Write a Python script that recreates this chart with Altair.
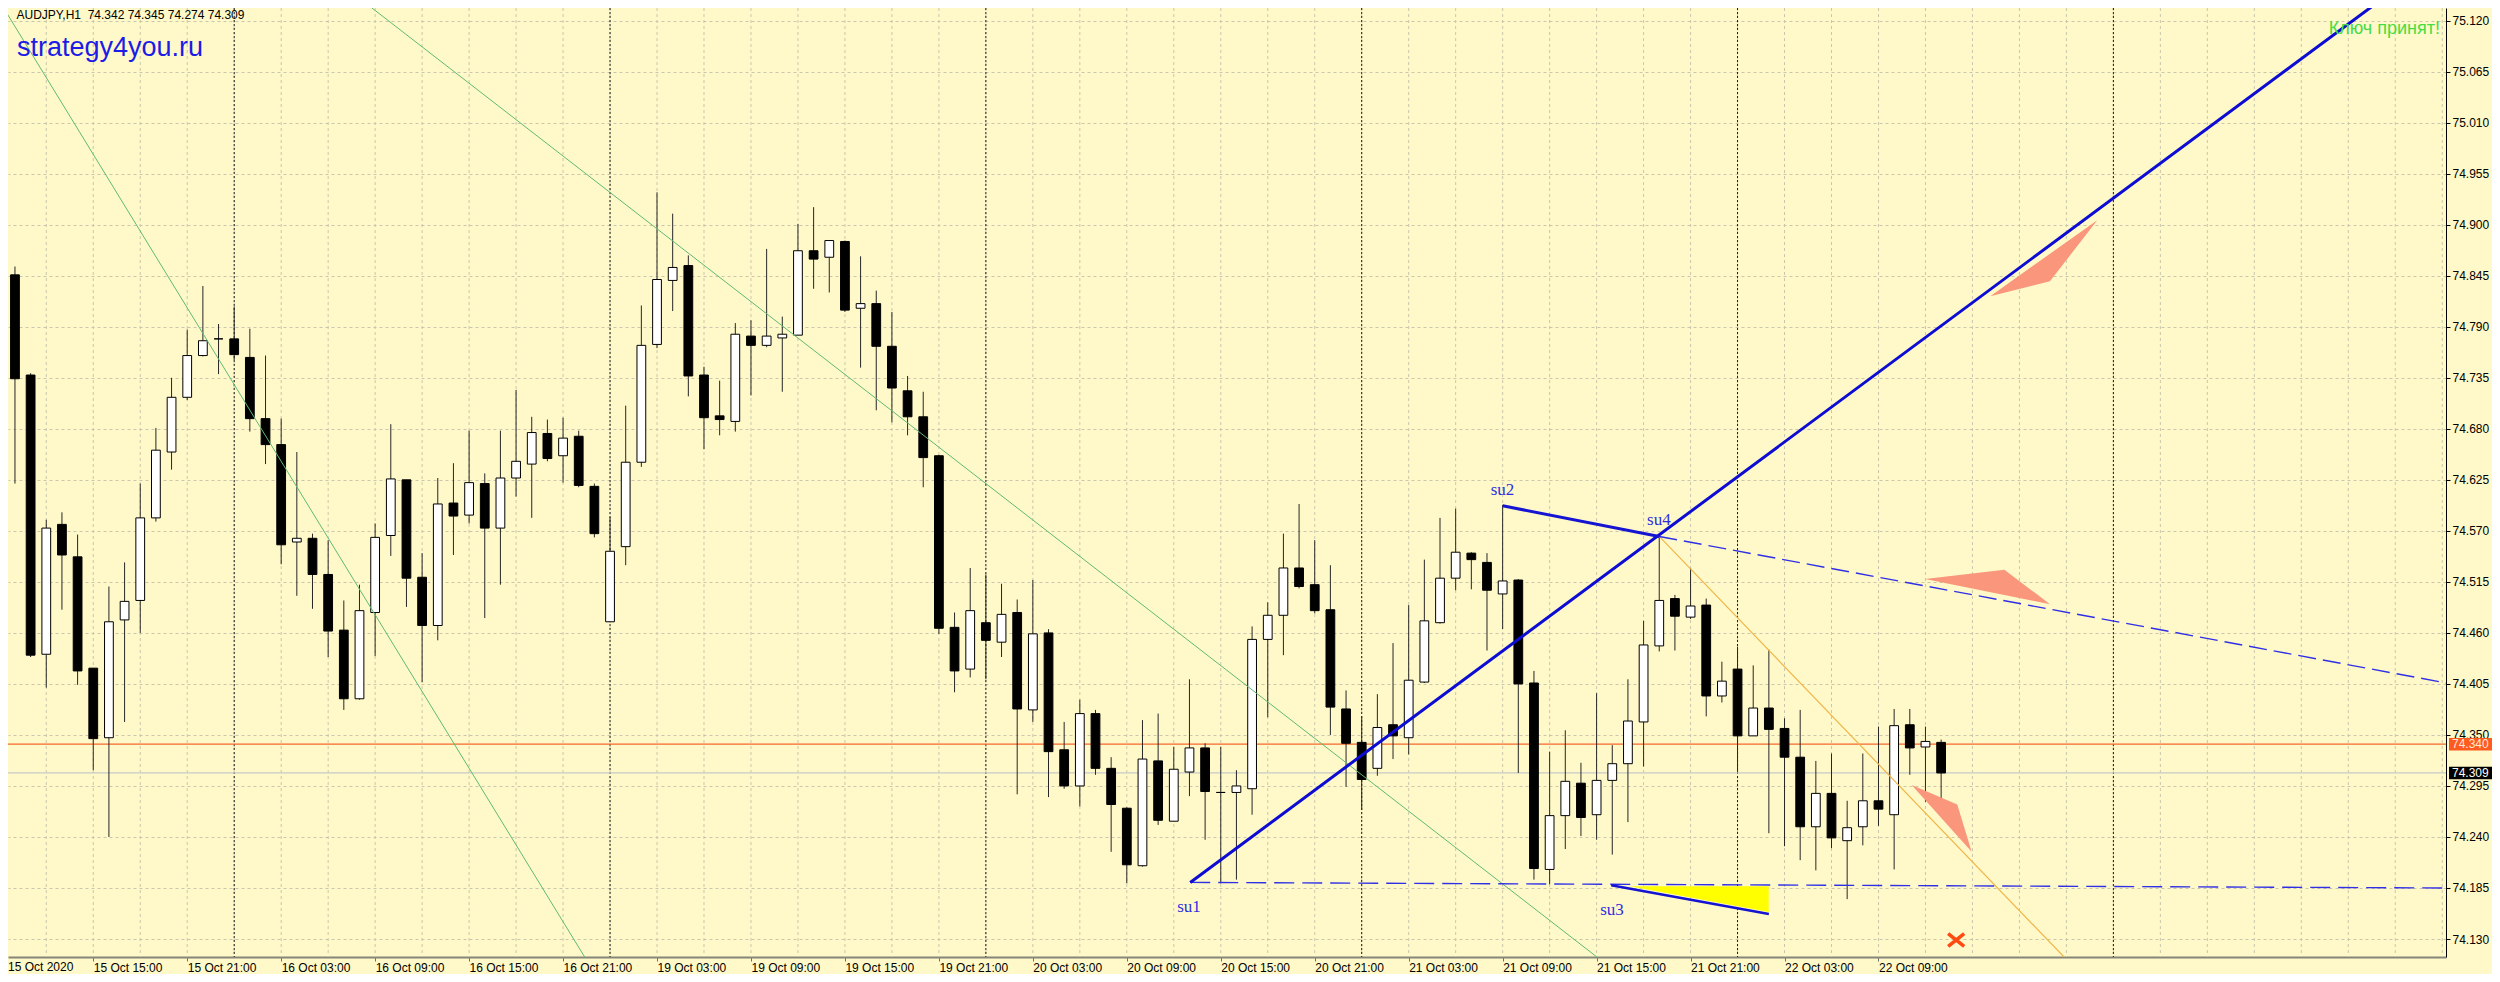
import json
import numpy as np
import pandas as pd
import altair as alt

# ---------------- data ----------------
bar_index = list(range(125))   # hourly bars, 15 Oct 09:00 .. 22 Oct 13:00 (weekend skipped)

opens = [74.997, 74.846, 74.738, 74.437, 74.577, 74.542, 74.422, 74.347, 74.474, 74.495,
         74.584, 74.655, 74.714, 74.759, 74.777, 74.777, 74.757, 74.691, 74.663, 74.558,
         74.562, 74.523, 74.463, 74.389, 74.482, 74.565, 74.625, 74.520, 74.468, 74.600,
         74.587, 74.621, 74.573, 74.627, 74.642, 74.675, 74.651, 74.672, 74.618, 74.472,
         74.553, 74.644, 74.771, 74.840, 74.856, 74.738, 74.694, 74.688, 74.780, 74.770,
         74.778, 74.781, 74.872, 74.865, 74.882, 74.810, 74.815, 74.769, 74.721, 74.693,
         74.651, 74.466, 74.421, 74.471, 74.450, 74.482, 74.377, 74.460, 74.334, 74.295,
         74.373, 74.314, 74.271, 74.209, 74.322, 74.257, 74.310, 74.336, 74.288, 74.288,
         74.292, 74.453, 74.479, 74.530, 74.512, 74.485, 74.378, 74.342, 74.314, 74.361,
         74.347, 74.407, 74.471, 74.519, 74.546, 74.536, 74.502, 74.517, 74.406, 74.205,
         74.263, 74.298, 74.264, 74.301, 74.319, 74.364, 74.446, 74.497, 74.477, 74.490,
         74.392, 74.421, 74.349, 74.379, 74.357, 74.326, 74.251, 74.287, 74.236, 74.251,
         74.279, 74.264, 74.361, 74.337, 74.342]
highs = [74.997, 74.855, 74.740, 74.582, 74.590, 74.566, 74.422, 74.510, 74.536, 74.621,
         74.681, 74.735, 74.787, 74.834, 74.793, 74.812, 74.788, 74.759, 74.691, 74.655,
         74.567, 74.560, 74.495, 74.512, 74.578, 74.685, 74.625, 74.546, 74.627, 74.643,
         74.678, 74.632, 74.678, 74.722, 74.693, 74.690, 74.692, 74.678, 74.621, 74.585,
         74.705, 74.813, 74.935, 74.912, 74.867, 74.747, 74.732, 74.794, 74.797, 74.874,
         74.801, 74.901, 74.919, 74.883, 74.883, 74.866, 74.829, 74.806, 74.737, 74.720,
         74.652, 74.482, 74.530, 74.523, 74.513, 74.496, 74.517, 74.464, 74.364, 74.388,
         74.377, 74.326, 74.272, 74.366, 74.373, 74.337, 74.410, 74.341, 74.337, 74.312,
         74.467, 74.493, 74.567, 74.599, 74.560, 74.533, 74.398, 74.370, 74.394, 74.449,
         74.490, 74.539, 74.584, 74.594, 74.547, 74.546, 74.598, 74.518, 74.419, 74.332,
         74.355, 74.320, 74.395, 74.339, 74.410, 74.473, 74.564, 74.501, 74.530, 74.497,
         74.429, 74.445, 74.425, 74.442, 74.368, 74.377, 74.322, 74.330, 74.279, 74.330,
         74.359, 74.378, 74.378, 74.359, 74.345]
lows = [74.847, 74.621, 74.434, 74.401, 74.485, 74.404, 74.312, 74.240, 74.364, 74.460,
        74.580, 74.636, 74.711, 74.758, 74.739, 74.754, 74.677, 74.642, 74.534, 74.500,
        74.486, 74.434, 74.377, 74.388, 74.435, 74.543, 74.488, 74.407, 74.452, 74.544,
        74.578, 74.476, 74.512, 74.607, 74.584, 74.645, 74.622, 74.617, 74.563, 74.472,
        74.533, 74.639, 74.767, 74.807, 74.715, 74.658, 74.673, 74.677, 74.716, 74.768,
        74.720, 74.781, 74.831, 74.827, 74.806, 74.746, 74.700, 74.687, 74.673, 74.617,
        74.459, 74.396, 74.412, 74.410, 74.434, 74.286, 74.364, 74.283, 74.292, 74.273,
        74.307, 74.224, 74.190, 74.208, 74.253, 74.257, 74.284, 74.237, 74.190, 74.194,
        74.264, 74.369, 74.436, 74.508, 74.481, 74.350, 74.294, 74.269, 74.306, 74.324,
        74.329, 74.406, 74.470, 74.506, 74.507, 74.441, 74.464, 74.309, 74.194, 74.189,
        74.227, 74.241, 74.237, 74.221, 74.256, 74.316, 74.440, 74.441, 74.475, 74.370,
        74.385, 74.310, 74.349, 74.244, 74.230, 74.215, 74.204, 74.228, 74.173, 74.231,
        74.252, 74.205, 74.307, 74.278, 74.274]
closes = [74.849, 74.734, 74.436, 74.573, 74.544, 74.419, 74.346, 74.472, 74.494, 74.584,
          74.657, 74.714, 74.759, 74.775, 74.777, 74.760, 74.691, 74.663, 74.555, 74.562,
          74.523, 74.462, 74.389, 74.484, 74.563, 74.626, 74.519, 74.468, 74.599, 74.586,
          74.622, 74.573, 74.627, 74.645, 74.676, 74.648, 74.670, 74.619, 74.567, 74.548,
          74.644, 74.770, 74.841, 74.854, 74.737, 74.692, 74.690, 74.782, 74.770, 74.780,
          74.782, 74.872, 74.863, 74.883, 74.808, 74.815, 74.769, 74.724, 74.693, 74.649,
          74.465, 74.419, 74.484, 74.452, 74.480, 74.378, 74.459, 74.332, 74.295, 74.373,
          74.314, 74.275, 74.210, 74.324, 74.258, 74.313, 74.336, 74.289, 74.288, 74.295,
          74.453, 74.479, 74.530, 74.510, 74.484, 74.380, 74.341, 74.302, 74.358, 74.349,
          74.409, 74.473, 74.519, 74.547, 74.539, 74.506, 74.516, 74.405, 74.206, 74.263,
          74.300, 74.261, 74.301, 74.319, 74.365, 74.447, 74.495, 74.478, 74.489, 74.392,
          74.408, 74.349, 74.379, 74.356, 74.326, 74.251, 74.287, 74.239, 74.250, 74.279,
          74.270, 74.360, 74.336, 74.343, 74.309]

y_ticks = [75.120, 75.065, 75.010, 74.955, 74.900, 74.845, 74.790, 74.735, 74.680, 74.625,
           74.570, 74.515, 74.460, 74.405, 74.350, 74.295, 74.240, 74.185, 74.130]
x_tick_idx = [6, 12, 18, 24, 30, 36, 42, 48, 54, 60, 66, 72, 78, 84, 90, 96, 102, 108, 114, 120]
x_tick_labels = ["15 Oct 15:00", "15 Oct 21:00", "16 Oct 03:00", "16 Oct 09:00", "16 Oct 15:00",
                 "16 Oct 21:00", "19 Oct 03:00", "19 Oct 09:00", "19 Oct 15:00", "19 Oct 21:00",
                 "20 Oct 03:00", "20 Oct 09:00", "20 Oct 15:00", "20 Oct 21:00", "21 Oct 03:00",
                 "21 Oct 09:00", "21 Oct 15:00", "21 Oct 21:00", "22 Oct 03:00", "22 Oct 09:00"]
first_label = "15 Oct 2020"
grid_idx = list(range(3, 157, 3))
day_sep_idx = [15, 39, 63, 87, 111, 135]

ask_level = 74.340
bid_level = 74.309

# trend lines (bar index, price) end points
green1_i, green1_p = [-0.034, 37.39], [75.1423, 74.1103]
green2_i, green2_p = [23.14, 102.02], [75.1423, 74.1106]
blue_up_i, blue_up_p = [76.05, 152.07], [74.191, 75.1423]
su24_i, su24_p = [96.0, 106.0], [74.597, 74.564]
su4ext_i, su4ext_p = [106.0, 156.26], [74.564, 74.406]
su1ext_i, su1ext_p = [76.05, 156.26], [74.191, 74.185]
su3_i, su3_p = [102.93, 113.0], [74.188, 74.157]
tan_i, tan_p = [106.0, 131.85], [74.564, 74.1106]

# filled shapes: upper chain / lower chain of (bar index, price)
arrow1_top = [(127.14, 74.823), (133.97, 74.905)]
arrow1_bot = [(127.14, 74.823), (130.95, 74.839), (133.97, 74.905)]
arrow2_top = [(122.97, 74.518), (128.04, 74.528), (130.95, 74.491)]
arrow2_bot = [(122.97, 74.518), (130.95, 74.491)]
arrow3_top = [(122.12, 74.296), (125.03, 74.275), (125.95, 74.224)]
arrow3_bot = [(122.12, 74.296), (125.95, 74.224)]
yellow_top = [(104.13, 74.187), (112.99, 74.187)]
yellow_bot = [(104.13, 74.187), (112.99, 74.159)]

su_labels = ["su1", "su2", "su4", "su3"]
su_i = [75.97, 95.99, 105.98, 102.98]
su_p = [74.1593, 74.6087, 74.5764, 74.1561]

cross_i, cross_p = [124.96], [74.129]

header = "AUDJPY,H1\u00a0\u00a074.342 74.345 74.274 74.309"
site = "strategy4you.ru"
key_msg = "Ключ принят!"

# ---------------- chart ----------------
BG = "#fff9c9"
W, H = 2438, 949
xs = alt.Scale(domain=[0.5556, 156.24], nice=False, zero=False)
ys = alt.Scale(domain=[74.1106, 75.1337], nice=False, zero=False)

label_expr = f"{json.dumps(x_tick_labels)}[indexof({json.dumps(x_tick_idx)}, datum.value)]"
xaxis = alt.Axis(values=x_tick_idx, labelExpr=label_expr, title=None, grid=False,
                 labelAlign="left", labelBaseline="top", labelFont="Liberation Sans",
                 labelFontSize=12, labelColor="#000000", labelPadding=1, labelOverlap=False,
                 labelFlush=False, tickSize=4, tickColor="#707070", domainColor="#85857a",
                 domainWidth=2)
yaxis = alt.Axis(orient="right", values=y_ticks, format=".3f", title=None, grid=True,
                 gridColor="#c9c6ad", gridDash=[3, 3], gridWidth=1,
                 labelFont="Liberation Sans", labelFontSize=12, labelColor="#000000",
                 labelPadding=2, labelOverlap=False, labelFlush=False, tickSize=4,
                 tickColor="#000000", domainColor="#000000", domainWidth=1)


def X(f):
    return alt.X(f, type="quantitative", scale=xs, axis=xaxis)


def Y(f):
    return alt.Y(f, type="quantitative", scale=ys, axis=yaxis)


def line_df(ii, pp):
    return pd.DataFrame({"i": ii, "p": pp, "o": list(range(len(ii)))})


def poly_df(top, bot):
    xs_ = sorted(set([q[0] for q in top] + [q[0] for q in bot]))
    ti, tp = zip(*top)
    bi, bp = zip(*bot)
    return pd.DataFrame({"i": xs_,
                         "top": [float(np.interp(x, ti, tp)) for x in xs_],
                         "bot": [float(np.interp(x, bi, bp)) for x in xs_]})


candles = pd.DataFrame({"i": bar_index, "o": opens, "h": highs, "l": lows, "c": closes})

vgrid = alt.Chart(pd.DataFrame({"g": grid_idx})).mark_rule(
    color="#c9c6ad", strokeDash=[3, 3], strokeWidth=1).encode(x=X("g"))
seps = alt.Chart(pd.DataFrame({"g": day_sep_idx})).mark_rule(
    color="#1a1a1a", strokeDash=[2, 2], strokeWidth=1).encode(x=X("g"))
hlines = alt.Chart(pd.DataFrame({"p": [ask_level, bid_level], "k": ["ask", "bid"]})).mark_rule(
    strokeWidth=1.3).encode(
    y=Y("p"),
    color=alt.Color("k:N", scale=alt.Scale(domain=["ask", "bid"], range=["#f5672e", "#c8c8c8"]),
                    legend=None))

wicks = alt.Chart(candles).mark_rule(color="#262626", strokeWidth=1, clip=True).encode(
    x=X("i"), y=Y("l"), y2="h")
bodies = alt.Chart(candles).transform_calculate(
    x0="datum.i - 0.28", x1="datum.i + 0.28",
    top="max(datum.o, datum.c)", bot="min(datum.o, datum.c)"
).mark_rect(stroke="#000000", strokeWidth=1, clip=True).encode(
    x=X("x0"), x2="x1", y=Y("bot"), y2="top",
    fill=alt.condition("datum.c >= datum.o", alt.value("#ffffff"), alt.value("#000000")))


def seg(ii, pp, **kw):
    return alt.Chart(line_df(ii, pp)).mark_line(clip=True, **kw).encode(
        x=X("i"), y=Y("p"), order="o:Q")


green1 = seg(green1_i, green1_p, color="#5fba74", strokeWidth=1)
green2 = seg(green2_i, green2_p, color="#5fba74", strokeWidth=1)
tan = seg(tan_i, tan_p, color="#f0b548", strokeWidth=1.2)


def area(top, bot, color):
    return alt.Chart(poly_df(top, bot)).mark_area(color=color, opacity=1, clip=True).encode(
        x=X("i"), y=Y("top"), y2="bot")


yellow = area(yellow_top, yellow_bot, "#ffff00")
dash1 = seg(su4ext_i, su4ext_p, color="#2f2fe6", strokeWidth=1.4, strokeDash=[18, 7])
dash2 = seg(su1ext_i, su1ext_p, color="#2f2fe6", strokeWidth=1.4, strokeDash=[20, 8])
blue_up = seg(blue_up_i, blue_up_p, color="#0c0cd2", strokeWidth=3)
su24 = seg(su24_i, su24_p, color="#1414d2", strokeWidth=3)
su3 = seg(su3_i, su3_p, color="#1414d2", strokeWidth=2.5)

arrow1 = area(arrow1_top, arrow1_bot, "#f9967c")
arrow2 = area(arrow2_top, arrow2_bot, "#f9967c")
arrow3 = area(arrow3_top, arrow3_bot, "#f9967c")

cross = alt.Chart(pd.DataFrame({"i": cross_i, "p": cross_p})).mark_point(
    shape="M-1,-0.8L1,0.8M1,-0.8L-1,0.8", filled=False, stroke="#ff4a12",
    strokeWidth=3.5, size=256, opacity=1).encode(x=X("i"), y=Y("p"))

su_text = alt.Chart(pd.DataFrame({"t": su_labels, "i": su_i, "p": su_p})).mark_text(
    font="Liberation Serif", fontSize=17, color="#2e2ee0", align="center",
    baseline="alphabetic").encode(x=X("i"), y=Y("p"), text="t:N")

hdr = alt.Chart(pd.DataFrame({"t": [header]})).mark_text(
    font="Liberation Sans", fontSize=12, color="#000000", align="left",
    baseline="alphabetic").encode(x=alt.value(8.5), y=alt.value(10.5), text="t:N")
site_t = alt.Chart(pd.DataFrame({"t": [site]})).mark_text(
    font="Liberation Sans", fontSize=27, color="#1c1ce6", align="left",
    baseline="alphabetic").encode(x=alt.value(9), y=alt.value(47.5), text="t:N")
key_t = alt.Chart(pd.DataFrame({"t": [key_msg]})).mark_text(
    font="Liberation Sans", fontSize=18, color="#44dd44", align="right",
    baseline="alphabetic").encode(x=alt.value(2432), y=alt.value(25.5), text="t:N")
first_t = alt.Chart(pd.DataFrame({"t": [first_label]})).mark_text(
    font="Liberation Sans", fontSize=12, color="#000000", align="left",
    baseline="top").encode(x=alt.value(0), y=alt.value(H + 5), text="t:N")

boxes_df = pd.DataFrame({"p": [ask_level, bid_level], "k": ["ask", "bid"],
                         "t": [f"{ask_level:.3f}", f"{bid_level:.3f}"]})
boxes = alt.Chart(boxes_df).transform_calculate(
    lo="datum.p - 0.0068", hi="datum.p + 0.0068").mark_rect().encode(
    x=alt.value(W + 3), x2=alt.value(W + 46), y=Y("lo"), y2="hi",
    fill=alt.Color("k:N", scale=alt.Scale(domain=["ask", "bid"], range=["#ff5a1f", "#000000"]),
                   legend=None))
box_text = alt.Chart(boxes_df).mark_text(
    font="Liberation Sans", fontSize=12, align="left", baseline="middle").encode(
    x=alt.value(W + 6), y=Y("p"), text="t:N",
    color=alt.Color("k:N", scale=alt.Scale(domain=["ask", "bid"], range=["#ffe9d6", "#ffffff"]),
                    legend=None))

chart = alt.layer(
    vgrid, seps, hlines, wicks, bodies, green1, green2, tan, yellow, dash1, dash2,
    blue_up, su24, su3, arrow1, arrow2, arrow3, cross, su_text, hdr, site_t, key_t,
    first_t, boxes, box_text
).resolve_scale(color="independent", fill="independent").properties(
    width=W, height=H, background=BG,
    padding={"left": 0, "top": 0, "right": 46, "bottom": 17},
    autosize=alt.AutoSizeParams(type="none"),
).configure_view(stroke=None, fill=BG)

chart.save("out.html", embed_options={"renderer": "svg", "actions": False})
